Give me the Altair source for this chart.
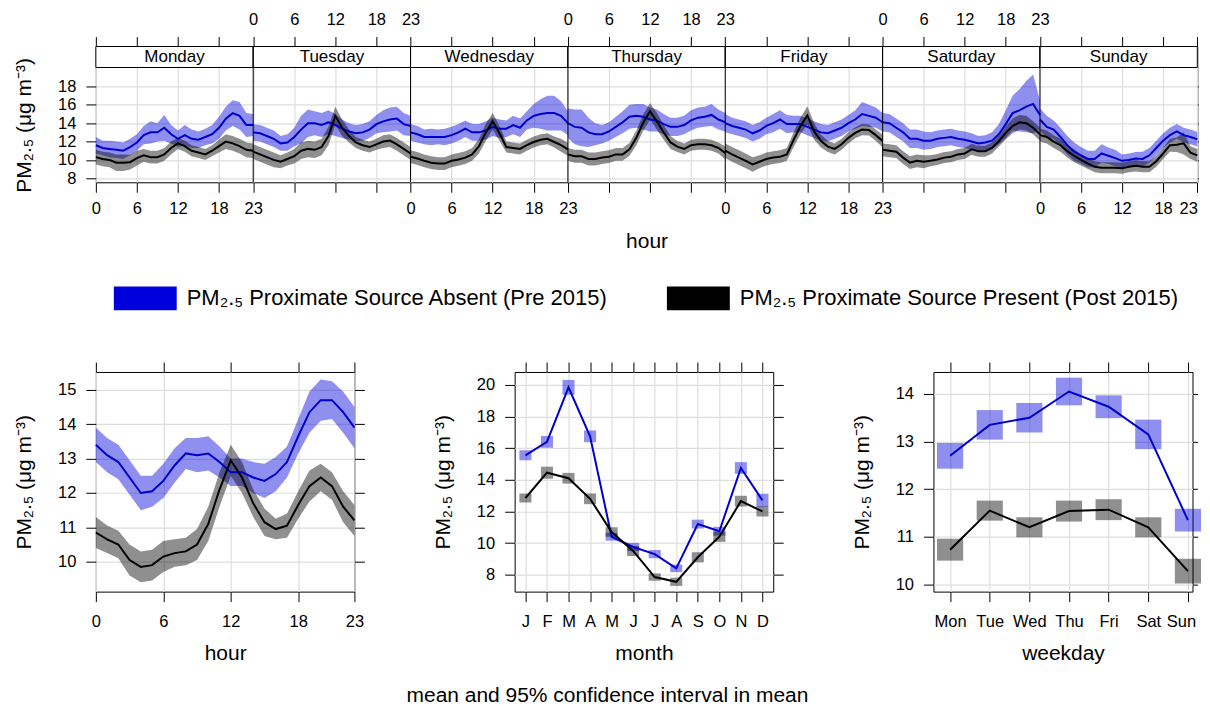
import altair as alt
import pandas as pd

# ---------------- labels ----------------
PRE = "PM₂.₅ Proximate Source Absent (Pre 2015)"
POST = "PM₂.₅ Proximate Source Present (Post 2015)"
SERIES = [PRE, POST]
YTITLE = "PM₂.₅ (μg m⁻³)"
FOOTER = "mean and 95% confidence interval in mean"
DAYS = ["Monday", "Tuesday", "Wednesday", "Thursday", "Friday", "Saturday", "Sunday"]
HOUR_TICKS = [0, 6, 12, 18, 23]
MONTH_LABELS = ["J", "F", "M", "A", "M", "J", "J", "A", "S", "O", "N", "D"]
WEEKDAY_LABELS = ["Mon", "Tue", "Wed", "Thu", "Fri", "Sat", "Sun"]
TOP_Y_TICKS = [8, 10, 12, 14, 16, 18]
HOUR_Y_TICKS = [10, 11, 12, 13, 14, 15]
MONTH_Y_TICKS = [8, 10, 12, 14, 16, 18, 20]
WEEKDAY_Y_TICKS = [10, 11, 12, 13, 14]

# ---------------- day x hour (mean, 95% CI half width) ----------------
pre_mon = [11.6, 11.3, 11.2, 11.1, 11.0, 11.4, 11.9, 12.7, 13.0, 13.0, 13.5, 12.8, 12.3, 12.7, 12.3, 12.2, 12.5, 12.8, 13.5, 14.5, 15.1, 14.8, 13.8, 13.8]
pre_tue = [13.0, 12.9, 12.6, 12.3, 11.8, 11.9, 12.5, 13.3, 14.0, 14.0, 13.8, 14.1, 13.8, 13.4, 13.1, 12.9, 13.0, 13.3, 13.9, 14.2, 14.4, 14.5, 13.9, 13.7]
pre_wed = [13.0, 12.8, 12.5, 12.5, 12.5, 12.5, 12.7, 13.0, 13.4, 13.0, 13.0, 13.2, 13.6, 13.4, 13.4, 13.8, 13.5, 14.3, 14.8, 15.0, 15.1, 15.1, 14.8, 14.0]
pre_thu = [14.0, 13.6, 13.5, 13.0, 12.8, 12.8, 13.1, 13.6, 14.1, 14.7, 14.8, 14.7, 14.4, 14.3, 13.9, 13.6, 13.6, 13.8, 14.3, 14.6, 14.7, 14.9, 14.4, 14.1]
pre_fri = [14.0, 13.7, 13.5, 13.3, 12.9, 13.2, 13.7, 14.0, 14.4, 13.9, 13.9, 13.9, 13.6, 13.3, 13.0, 12.9, 13.2, 13.5, 14.0, 14.4, 15.0, 14.8, 14.6, 14.1]
pre_sat = [14.1, 14.0, 13.5, 13.0, 12.3, 12.3, 12.1, 12.1, 12.3, 12.4, 12.5, 12.3, 12.2, 12.0, 11.8, 11.9, 12.1, 12.8, 13.9, 15.1, 15.4, 15.8, 16.1, 14.9]
pre_sun = [14.4, 13.6, 13.3, 12.5, 11.6, 10.9, 10.5, 10.1, 10.1, 10.7, 10.45, 10.2, 9.9, 10.0, 10.15, 10.1, 10.5, 11.3, 12.1, 12.7, 13.1, 12.7, 12.5, 12.25]

pre_ci_mon = [0.9, 0.8, 0.9, 0.9, 0.9, 0.9, 0.9, 1.0, 1.2, 1.0, 1.4, 1.0, 0.9, 1.1, 1.0, 0.9, 0.9, 1.0, 1.2, 1.3, 1.4, 1.5, 1.3, 1.2]
pre_ci_tue = [0.9, 0.9, 0.9, 0.9, 0.8, 0.9, 1.0, 1.5, 1.5, 1.3, 1.3, 1.3, 1.2, 1.0, 0.9, 0.9, 0.9, 0.9, 1.0, 1.2, 1.3, 1.3, 1.2, 1.1]
pre_ci_wed = [0.9, 0.9, 0.8, 0.9, 0.8, 0.9, 0.9, 0.9, 0.9, 0.9, 0.9, 1.0, 1.0, 1.0, 0.9, 1.0, 1.0, 1.0, 1.3, 1.6, 1.9, 1.9, 1.6, 1.3]
pre_ci_thu = [1.6, 1.9, 2.0, 1.6, 1.2, 1.0, 1.0, 1.1, 1.2, 1.3, 1.3, 1.4, 1.3, 1.2, 1.1, 1.0, 1.0, 1.0, 1.1, 1.1, 1.1, 1.2, 1.1, 1.0]
pre_ci_fri = [1.0, 0.9, 0.9, 0.9, 0.9, 0.9, 0.9, 1.0, 1.0, 1.0, 0.9, 0.9, 0.9, 0.9, 0.9, 0.9, 0.9, 0.9, 0.9, 1.0, 1.3, 1.2, 1.1, 1.0]
pre_ci_sat = [1.0, 1.0, 1.0, 1.0, 1.0, 1.0, 1.0, 0.9, 0.9, 0.9, 0.9, 0.9, 0.9, 0.9, 0.8, 0.8, 0.9, 1.1, 1.5, 1.9, 2.3, 2.8, 3.2, 1.6]
pre_ci_sun = [1.2, 1.2, 1.0, 1.0, 1.0, 1.0, 0.9, 0.9, 0.9, 1.0, 0.9, 0.9, 0.7, 0.7, 0.7, 0.8, 0.8, 0.8, 0.8, 0.8, 0.8, 0.8, 0.8, 0.8]

post_mon = [10.3, 10.1, 10.0, 9.7, 9.7, 9.75, 10.2, 10.5, 10.3, 10.3, 10.6, 11.3, 11.8, 11.5, 11.0, 10.8, 10.6, 11.0, 11.5, 12.0, 11.8, 11.5, 11.1, 11.0]
post_tue = [10.9, 10.6, 10.3, 10.0, 9.8, 10.1, 10.4, 11.0, 11.2, 11.1, 11.4, 12.6, 14.8, 13.5, 12.6, 11.9, 11.6, 11.4, 11.7, 12.0, 12.1, 11.7, 11.2, 10.7]
post_wed = [10.35, 10.15, 9.9, 9.7, 9.6, 9.6, 9.9, 10.05, 10.25, 10.6, 11.5, 13.0, 14.2, 12.9, 11.4, 11.3, 11.2, 11.6, 11.95, 12.2, 12.3, 11.95, 11.6, 11.15]
post_thu = [10.6, 10.4, 10.4, 10.1, 10.1, 10.25, 10.35, 10.6, 10.6, 11.15, 12.4, 14.05, 15.3, 14.2, 13.0, 11.9, 11.45, 11.2, 11.6, 11.7, 11.7, 11.6, 11.3, 10.75]
post_fri = [11.0, 10.6, 10.25, 9.9, 9.5, 9.8, 10.1, 10.25, 10.35, 10.6, 12.2, 13.7, 14.85, 13.1, 12.05, 11.45, 11.2, 11.7, 12.4, 12.95, 13.3, 13.25, 12.7, 12.05]
post_sat = [11.1, 11.0, 10.9, 10.25, 9.7, 9.9, 9.8, 9.9, 10.05, 10.25, 10.35, 10.6, 10.7, 11.15, 10.95, 10.95, 11.3, 12.05, 12.95, 13.7, 14.1, 14.0, 13.5, 12.8]
post_sun = [12.7, 12.5, 12.0, 11.6, 10.95, 10.45, 10.0, 9.6, 9.25, 9.15, 9.15, 9.15, 9.1, 9.25, 9.35, 9.25, 9.25, 9.85, 10.7, 11.6, 11.65, 11.8, 10.8, 10.5]

post_ci_mon = [0.8, 0.8, 0.8, 0.9, 0.9, 0.8, 0.8, 0.7, 0.7, 0.7, 0.7, 0.7, 0.6, 0.6, 0.6, 0.6, 0.6, 0.6, 0.7, 0.8, 0.8, 0.8, 0.8, 0.8]
post_ci_tue = [0.8, 0.8, 0.8, 0.8, 0.7, 0.7, 0.8, 0.9, 0.9, 0.9, 0.9, 1.0, 1.0, 0.9, 0.7, 0.6, 0.6, 0.6, 0.6, 0.7, 0.7, 0.7, 0.7, 0.7]
post_ci_wed = [0.7, 0.7, 0.7, 0.7, 0.7, 0.7, 0.7, 0.7, 0.7, 0.7, 0.8, 0.9, 0.9, 0.8, 0.6, 0.6, 0.6, 0.6, 0.6, 0.6, 0.6, 0.6, 0.7, 0.7]
post_ci_thu = [0.7, 0.7, 0.7, 0.7, 0.7, 0.7, 0.7, 0.7, 0.7, 0.7, 0.8, 0.9, 0.9, 0.9, 0.8, 0.7, 0.6, 0.6, 0.6, 0.6, 0.6, 0.6, 0.6, 0.7]
post_ci_fri = [0.8, 0.8, 0.8, 0.8, 0.8, 0.7, 0.7, 0.7, 0.7, 0.7, 0.8, 0.9, 1.0, 0.9, 0.7, 0.6, 0.6, 0.6, 0.6, 0.6, 0.6, 0.6, 0.6, 0.7]
post_ci_sat = [0.7, 0.7, 0.7, 0.7, 0.7, 0.7, 0.7, 0.6, 0.6, 0.6, 0.6, 0.6, 0.6, 0.6, 0.6, 0.6, 0.6, 0.6, 0.7, 0.8, 0.8, 0.8, 0.7, 0.7]
post_ci_sun = [0.7, 0.7, 0.7, 0.7, 0.7, 0.7, 0.6, 0.6, 0.6, 0.6, 0.6, 0.6, 0.6, 0.6, 0.6, 0.6, 0.6, 0.6, 0.6, 0.7, 0.8, 1.2, 0.7, 0.7]

# ---------------- hour of day ----------------
pre_hour = [13.4, 13.1, 12.9, 12.45, 12.0, 12.05, 12.35, 12.8, 13.15, 13.1, 13.15, 12.9, 12.6, 12.6, 12.45, 12.35, 12.55, 12.9, 13.65, 14.35, 14.7, 14.7, 14.35, 13.9]
pre_hour_ci = [0.5, 0.5, 0.5, 0.5, 0.5, 0.45, 0.5, 0.5, 0.45, 0.5, 0.5, 0.45, 0.4, 0.4, 0.45, 0.5, 0.5, 0.45, 0.5, 0.6, 0.6, 0.55, 0.6, 0.6]
post_hour = [10.85, 10.65, 10.5, 10.05, 9.85, 9.9, 10.15, 10.25, 10.3, 10.5, 11.1, 12.1, 12.95, 12.45, 11.7, 11.15, 10.95, 11.05, 11.65, 12.2, 12.45, 12.2, 11.6, 11.2]
post_hour_ci = [0.45, 0.4, 0.4, 0.45, 0.45, 0.45, 0.45, 0.4, 0.4, 0.45, 0.5, 0.5, 0.45, 0.45, 0.4, 0.4, 0.3, 0.35, 0.4, 0.45, 0.4, 0.4, 0.45, 0.45]

# ---------------- month ----------------
pre_month = [15.55, 16.4, 19.85, 16.75, 10.4, 9.75, 9.3, 8.4, 11.2, 10.75, 14.75, 12.7]
pre_month_ci = [0.32, 0.37, 0.47, 0.37, 0.25, 0.26, 0.26, 0.24, 0.28, 0.28, 0.37, 0.42]
post_month = [12.85, 14.45, 14.1, 12.8, 10.7, 9.5, 7.85, 7.55, 9.1, 10.4, 12.65, 12.0]
post_month_ci = [0.28, 0.38, 0.34, 0.34, 0.3, 0.32, 0.23, 0.26, 0.32, 0.32, 0.34, 0.32]

# ---------------- weekday ----------------
pre_weekday = [12.7, 13.35, 13.5, 14.05, 13.73, 13.15, 11.35]
pre_weekday_ci = [0.27, 0.31, 0.31, 0.29, 0.24, 0.31, 0.24]
post_weekday = [10.73, 11.55, 11.2, 11.54, 11.57, 11.2, 10.28]
post_weekday_ci = [0.23, 0.21, 0.21, 0.22, 0.22, 0.21, 0.26]

# ---------------- styling ----------------
FONT = "Liberation Sans"
LINE_BLUE = "#0000CD"
BAND_BLUE = "#0000DD"
BAND_OPACITY = 0.44
GRID = "#dedede"
W_TOP, H_PLOT, H_STRIP = 1103.3, 115, 21
W_SMALL, H_SMALL, W_WEEK = 259, 220, 259.5
Y_LO, Y_HI = 7.56, 20.07
Y_STRIP_TOP = Y_HI + (Y_HI - Y_LO) * H_STRIP / H_PLOT

fill_scale = alt.Scale(domain=SERIES, range=[BAND_BLUE, "#000000"])
stroke_scale = alt.Scale(domain=SERIES, range=[LINE_BLUE, "#000000"])
legend = alt.Legend(
    title=None, orient="none", legendX=18, legendY=220.5, direction="horizontal", columns=2,
    symbolType="M-1,-0.38H1V0.38H-1Z", symbolSize=3969, symbolOpacity=1, symbolStrokeWidth=0,
    labelFont=FONT, labelFontSize=22, labelColor="black", labelOffset=10, columnPadding=58,
    labelLimit=700,
)


def fill_enc():
    return alt.Fill("series:N", scale=fill_scale, legend=legend, sort=SERIES)


def stroke_enc():
    return alt.Stroke("series:N", scale=stroke_scale, legend=None, sort=SERIES)


def mirror_axis(orient, values, size=10):
    return alt.Axis(orient=orient, values=values, labels=False, title=None, grid=False, tickSize=size)


# ---------------- top panel data ----------------
pre_week = [pre_mon, pre_tue, pre_wed, pre_thu, pre_fri, pre_sat, pre_sun]
pre_week_ci = [pre_ci_mon, pre_ci_tue, pre_ci_wed, pre_ci_thu, pre_ci_fri, pre_ci_sat, pre_ci_sun]
post_week = [post_mon, post_tue, post_wed, post_thu, post_fri, post_sat, post_sun]
post_week_ci = [post_ci_mon, post_ci_tue, post_ci_wed, post_ci_thu, post_ci_fri, post_ci_sat, post_ci_sun]

rows = []
for d, day in enumerate(DAYS):
    for series, means, cis in ((PRE, pre_week[d], pre_week_ci[d]), (POST, post_week[d], post_week_ci[d])):
        for h in range(24):
            rows.append({"day": day, "series": series, "pos": d * 23 + h,
                         "mean": means[h], "lo": means[h] - cis[h], "hi": means[h] + cis[h]})
top_df = pd.DataFrame(rows)
sep_df = pd.DataFrame({"pos": [d * 23 for d in range(1, 7)]})
strip_df = pd.DataFrame({
    "day": DAYS,
    "start": [d * 23 for d in range(7)],
    "end": [d * 23 + 23 for d in range(7)],
    "mid": [d * 23 + 11.5 for d in range(7)],
    "s0": [Y_HI] * 7,
    "s1": [Y_STRIP_TOP] * 7,
    "sm": [(Y_HI + Y_STRIP_TOP) / 2] * 7,
})

week_ticks = sorted(set(d * 23 + h for d in range(7) for h in HOUR_TICKS))
x_top = alt.Scale(domain=[0, 161], nice=False, zero=False)
y_top = alt.Scale(domain=[Y_LO, Y_STRIP_TOP], nice=False, zero=False)

bottom_week_axis = alt.Axis(
    values=week_ticks, grid=True, title="hour", tickSize=10, labelPadding=8.5, titlePadding=13,
    labelFlush=False,
    labelAlign={"condition": {"test": "datum.value >= 161", "value": "right"}, "value": "center"},
    labelExpr="datum.value % 46 <= 23 ? '' + (datum.value % 46) : ''",
)
top_week_axis = alt.Axis(
    orient="top", values=week_ticks, grid=False, title=None, tickSize=10, labelPadding=9,
    labelFlush=False,
    labelExpr="(datum.value >= 23 && datum.value < 161 && (datum.value - 23) % 46 <= 23) ? '' + ((datum.value - 23) % 46) : ''",
)
left_top_axis = alt.Axis(values=TOP_Y_TICKS, grid=True, title=YTITLE, tickSize=10, labelPadding=10,
                         titlePadding=23, titleY=H_STRIP + H_PLOT / 2)

X_TOP = alt.X("pos:Q", scale=x_top, axis=bottom_week_axis)

top_band = alt.Chart(top_df).mark_area(opacity=BAND_OPACITY).encode(
    x=X_TOP, y=alt.Y("lo:Q", scale=y_top, axis=left_top_axis), y2="hi:Q",
    fill=fill_enc(), detail="day:N",
)
top_line = alt.Chart(top_df).mark_line(strokeWidth=2).encode(
    x=X_TOP, y=alt.Y("mean:Q", scale=y_top, axis=left_top_axis),
    stroke=stroke_enc(), detail="day:N",
)
strip_rect = alt.Chart(strip_df).mark_rect(fill="white", stroke="black", strokeWidth=1).encode(
    x=alt.X("start:Q", scale=x_top, axis=bottom_week_axis), x2="end:Q",
    y=alt.Y("s0:Q", scale=y_top, axis=left_top_axis), y2="s1:Q",
)
strip_text = alt.Chart(strip_df).mark_text(font=FONT, fontSize=17, color="black").encode(
    x=alt.X("mid:Q", scale=x_top, axis=bottom_week_axis),
    y=alt.Y("sm:Q", scale=y_top, axis=left_top_axis),
    text="day:N",
)
top_sep = alt.Chart(sep_df).mark_rule(color="black", strokeWidth=1).encode(x=X_TOP)
top_mirror = alt.Chart(top_df).mark_point(opacity=0, size=0).encode(
    x=alt.X("pos:Q", scale=x_top, axis=top_week_axis),
    y=alt.Y("mean:Q", scale=y_top, axis=mirror_axis("right", TOP_Y_TICKS, 1)),
)
top_chart = alt.layer(
    alt.layer(top_band, top_line, strip_rect, strip_text, top_sep), top_mirror
).resolve_axis(x="independent", y="independent").properties(width=W_TOP, height=H_STRIP + H_PLOT)

# ---------------- hour panel ----------------
hour_rows = []
for series, means, cis in ((PRE, pre_hour, pre_hour_ci), (POST, post_hour, post_hour_ci)):
    for h in range(24):
        hour_rows.append({"series": series, "hour": h, "mean": means[h],
                          "lo": means[h] - cis[h], "hi": means[h] + cis[h]})
hour_df = pd.DataFrame(hour_rows)
hx = alt.Scale(domain=[0, 23], nice=False, zero=False)
hy = alt.Scale(domain=[9.13, 15.52], nice=False, zero=False)
hx_axis = alt.Axis(values=HOUR_TICKS, grid=True, title="hour", tickSize=10, labelPadding=12, titlePadding=13,
                   labelFlush=False)
hy_axis = alt.Axis(values=HOUR_Y_TICKS, grid=True, title=YTITLE, tickSize=10, labelPadding=10, titlePadding=23)

hour_band = alt.Chart(hour_df).mark_area(opacity=BAND_OPACITY).encode(
    x=alt.X("hour:Q", scale=hx, axis=hx_axis),
    y=alt.Y("lo:Q", scale=hy, axis=hy_axis), y2="hi:Q", fill=fill_enc())
hour_line = alt.Chart(hour_df).mark_line(strokeWidth=2).encode(
    x=alt.X("hour:Q", scale=hx, axis=hx_axis),
    y=alt.Y("mean:Q", scale=hy, axis=hy_axis), stroke=stroke_enc())
hour_mirror = alt.Chart(hour_df).mark_point(opacity=0, size=0).encode(
    x=alt.X("hour:Q", scale=hx, axis=mirror_axis("top", HOUR_TICKS)),
    y=alt.Y("mean:Q", scale=hy, axis=mirror_axis("right", HOUR_Y_TICKS)))
hour_chart = alt.layer(alt.layer(hour_band, hour_line), hour_mirror).resolve_axis(
    x="independent", y="independent").properties(width=W_SMALL, height=H_SMALL)


# ---------------- categorical panels ----------------
def cat_frame(pre_m, pre_c, post_m, post_c, half):
    out = []
    for series, means, cis in ((PRE, pre_m, pre_c), (POST, post_m, post_c)):
        for i, (m, c) in enumerate(zip(means, cis)):
            out.append({"series": series, "idx": i, "mean": m, "lo": m - c, "hi": m + c,
                        "x0": i - half, "x1": i + half})
    return pd.DataFrame(out)


def cat_chart(df, labels, xdomain, ydomain, yticks, title, width, right_tick, last_shift):
    xs = alt.Scale(domain=xdomain, nice=False, zero=False)
    ys = alt.Scale(domain=ydomain, nice=False, zero=False)
    idx = list(range(len(labels)))
    lab_js = "[" + ",".join("'" + s + "'" for s in labels) + "][datum.value]"
    x_axis = alt.Axis(
        values=idx, labelExpr=lab_js, grid=True, title=title, tickSize=10,
        labelPadding=12, titlePadding=13, labelFlush=False,
        labelOffset={"condition": {"test": "datum.value == %d" % idx[-1], "value": last_shift}, "value": 0},
    )
    y_axis = alt.Axis(values=yticks, grid=True, title=YTITLE, tickSize=10, labelPadding=10, titlePadding=23)
    rects = alt.Chart(df).mark_rect(opacity=BAND_OPACITY).encode(
        x=alt.X("x0:Q", scale=xs, axis=x_axis), x2="x1:Q",
        y=alt.Y("lo:Q", scale=ys, axis=y_axis), y2="hi:Q", fill=fill_enc())
    lines = alt.Chart(df).mark_line(strokeWidth=2).encode(
        x=alt.X("idx:Q", scale=xs, axis=x_axis),
        y=alt.Y("mean:Q", scale=ys, axis=y_axis), stroke=stroke_enc())
    mirror = alt.Chart(df).mark_point(opacity=0, size=0).encode(
        x=alt.X("idx:Q", scale=xs, axis=mirror_axis("top", idx)),
        y=alt.Y("mean:Q", scale=ys, axis=mirror_axis("right", yticks, right_tick)))
    return alt.layer(alt.layer(rects, lines), mirror).resolve_axis(
        x="independent", y="independent").properties(width=width, height=H_SMALL)


month_df = cat_frame(pre_month, pre_month_ci, post_month, post_month_ci, 0.28)
week_df = cat_frame(pre_weekday, pre_weekday_ci, post_weekday, post_weekday_ci, 0.33)
month_chart = cat_chart(month_df, MONTH_LABELS, [-0.5, 11.5], [6.93, 20.82], MONTH_Y_TICKS, "month",
                        W_SMALL, 10, 0)
week_chart = cat_chart(week_df, WEEKDAY_LABELS, [-0.42, 6.116], [9.85, 14.46], WEEKDAY_Y_TICKS, "weekday",
                       W_WEEK, 5, -7)

bottom_row = alt.hconcat(hour_chart, month_chart, week_chart, spacing=160.5, bounds="flush")

chart = alt.vconcat(top_chart, bottom_row, spacing=190, bounds="flush").resolve_scale(
    fill="shared", stroke="shared"
).properties(
    title=alt.TitleParams(text=FOOTER, orient="bottom", anchor="middle", font=FONT, fontSize=21,
                          fontWeight="normal", color="black", offset=21),
    background="white",
    padding={"left": 5, "top": 2, "right": 0, "bottom": 3},
).configure_view(
    stroke="black", strokeWidth=1, fill="white"
).configure_axis(
    labelFont=FONT, labelFontSize=16.5, labelColor="black",
    titleFont=FONT, titleFontSize=21, titleFontWeight="normal", titleColor="black",
    tickColor="black", tickWidth=1, domain=False, gridColor=GRID, gridWidth=1.2,
)

chart.save("out.html", embed_options={"renderer": "svg", "actions": False})
